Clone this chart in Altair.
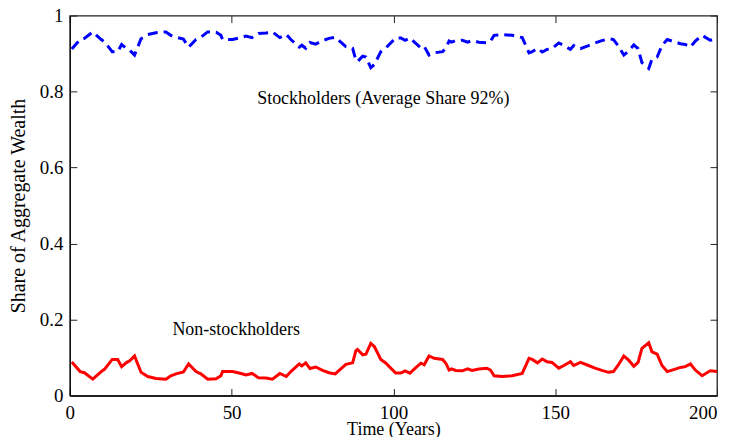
import altair as alt
import pandas as pd

time_years = [
    0.6, 3.2, 4.5, 7.1, 9.7, 10.7, 13.1, 14.8, 16.0, 17.4,
    18.6, 20.0, 22.0, 24.1, 26.6, 29.7, 31.2, 32.8, 35.1, 36.7,
    39.0, 40.5, 42.6, 45.2, 46.7, 47.2, 50.3, 52.9, 54.4, 56.3,
    58.3, 60.6, 62.6, 64.9, 66.9, 68.3, 70.9, 71.7, 72.9, 74.2,
    76.0, 78.1, 80.1, 82.0, 85.3, 87.4, 88.4, 88.9, 90.5, 91.5,
    93.0, 94.1, 96.1, 97.7, 98.7, 100.7, 102.3, 103.6, 105.1, 107.0,
    108.5, 109.5, 111.0, 112.6, 115.2, 116.2, 117.2, 118.0, 119.2, 121.3,
    122.9, 124.3, 126.4, 128.9, 130.0, 131.1, 133.6, 136.7, 139.8, 141.9,
    142.9, 144.5, 146.0, 147.5, 149.0, 151.1, 152.7, 154.7, 155.7, 157.8,
    160.3, 162.3, 164.4, 166.5, 168.0, 169.4, 171.2, 172.7, 174.3, 175.6,
    176.8, 178.9, 179.9, 181.5, 183.0, 184.6, 186.1, 188.7, 190.2, 191.8,
    193.3, 195.4, 197.9, 200.0,
]

non_stockholders = [
    0.088, 0.063, 0.060, 0.043, 0.063, 0.069, 0.095, 0.095, 0.076, 0.086,
    0.092, 0.104, 0.061, 0.050, 0.045, 0.043, 0.052, 0.057, 0.062, 0.083,
    0.063, 0.057, 0.043, 0.044, 0.052, 0.063, 0.063, 0.058, 0.054, 0.058,
    0.047, 0.046, 0.043, 0.058, 0.050, 0.063, 0.083, 0.078, 0.086, 0.071,
    0.075, 0.066, 0.060, 0.057, 0.082, 0.086, 0.118, 0.121, 0.107, 0.109,
    0.137, 0.129, 0.095, 0.085, 0.076, 0.059, 0.059, 0.065, 0.059, 0.074,
    0.085, 0.081, 0.104, 0.098, 0.095, 0.085, 0.067, 0.070, 0.066, 0.065,
    0.070, 0.066, 0.070, 0.072, 0.067, 0.052, 0.050, 0.052, 0.058, 0.098,
    0.095, 0.086, 0.096, 0.089, 0.087, 0.072, 0.079, 0.089, 0.079, 0.087,
    0.079, 0.072, 0.066, 0.061, 0.063, 0.079, 0.104, 0.093, 0.077, 0.087,
    0.124, 0.139, 0.115, 0.109, 0.079, 0.063, 0.067, 0.074, 0.076, 0.083,
    0.067, 0.052, 0.065, 0.063,
]

stockholders = [
    0.912, 0.937, 0.940, 0.957, 0.937, 0.931, 0.905, 0.905, 0.924, 0.914,
    0.908, 0.896, 0.939, 0.950, 0.955, 0.957, 0.948, 0.943, 0.938, 0.917,
    0.937, 0.943, 0.957, 0.956, 0.948, 0.937, 0.937, 0.942, 0.946, 0.942,
    0.953, 0.954, 0.957, 0.942, 0.950, 0.937, 0.917, 0.922, 0.914, 0.929,
    0.925, 0.934, 0.940, 0.943, 0.918, 0.914, 0.882, 0.879, 0.893, 0.891,
    0.863, 0.871, 0.905, 0.915, 0.924, 0.941, 0.941, 0.935, 0.941, 0.926,
    0.915, 0.919, 0.896, 0.902, 0.905, 0.915, 0.933, 0.930, 0.934, 0.935,
    0.930, 0.934, 0.930, 0.928, 0.933, 0.948, 0.950, 0.948, 0.942, 0.902,
    0.905, 0.914, 0.904, 0.911, 0.913, 0.928, 0.921, 0.911, 0.921, 0.913,
    0.921, 0.928, 0.934, 0.939, 0.937, 0.921, 0.896, 0.907, 0.923, 0.913,
    0.876, 0.861, 0.885, 0.891, 0.921, 0.937, 0.933, 0.926, 0.924, 0.917,
    0.933, 0.948, 0.935, 0.937,
]

x_ticks = [0, 50, 100, 150, 200]
y_ticks = [0, 0.2, 0.4, 0.6, 0.8, 1.0]

label_text = ["Stockholders (Average Share 92%)", "Non-stockholders"]
label_x = [57.9, 31.7]
label_y = [0.767, 0.160]

df = pd.DataFrame({"t": time_years, "ns": non_stockholders, "s": stockholders})
labels = pd.DataFrame({"lx": label_x, "ly": label_y, "txt": label_text})

FONT = "Liberation Serif"
xscale = alt.Scale(domain=[0, 200], nice=False, zero=False)
yscale = alt.Scale(domain=[0, 1], nice=False, zero=False)

def tick_axis(orient):
    return alt.Axis(orient=orient, offset=-7, tickSize=7, tickWidth=1, tickColor="#222",
                    labels=False, domain=False, grid=False, title=None,
                    values=x_ticks if orient in ("top", "bottom") else y_ticks)

red = alt.Chart(df).mark_line(color="#ff0000", strokeWidth=3).encode(
    x=alt.X("t:Q", scale=xscale,
            axis=alt.Axis(orient="bottom", values=x_ticks, title="Time (Years)",
                          ticks=False, grid=False, domain=True, domainColor="#222",
                          domainWidth=2, labelPadding=23, labelBaseline="alphabetic",
                          labelFlush=False,
                          labelAlign={"condition": {"test": "datum.value >= 200", "value": "right"},
                                      "value": "center"},
                          titleY=39, titleBaseline="alphabetic",
                          labelFontSize=19, titleFontSize=18, labelFont=FONT,
                          titleFont=FONT, titleFontWeight="normal", labelColor="black",
                          titleColor="black")),
    y=alt.Y("ns:Q", scale=yscale,
            axis=alt.Axis(orient="left", values=y_ticks, format="~g",
                          title="Share of Aggregate Wealth", labelFlush=False,
                          ticks=False, grid=False, domain=True, domainColor="black",
                          domainWidth=1, labelPadding=7, titlePadding=11,
                          labelFontSize=19, titleFontSize=20, labelFont=FONT,
                          titleFont=FONT, titleFontWeight="normal", labelColor="black",
                          titleColor="black")),
)

blue = alt.Chart(df).mark_line(color="#0000ff", strokeWidth=3, strokeDash=[10, 6]).encode(
    x=alt.X("t:Q", scale=xscale, axis=tick_axis("bottom")),
    y=alt.Y("s:Q", scale=yscale, axis=tick_axis("left")),
)

text = alt.Chart(labels).mark_text(align="left", baseline="alphabetic", font=FONT,
                                    fontSize=18, color="black").encode(
    x=alt.X("lx:Q", scale=xscale, axis=tick_axis("top")),
    y=alt.Y("ly:Q", scale=yscale, axis=tick_axis("right")),
    text="txt:N",
)

chart = alt.layer(red, blue, text).resolve_axis(x="independent", y="independent").properties(
    width=649, height=381,
    autosize=alt.AutoSizeParams(type="none"),
    padding={"left": 62, "top": 7, "right": 6, "bottom": 41},
).configure_view(stroke="#222", strokeWidth=1.3)

chart.save("out.html", embed_options={"renderer": "svg", "actions": False})
